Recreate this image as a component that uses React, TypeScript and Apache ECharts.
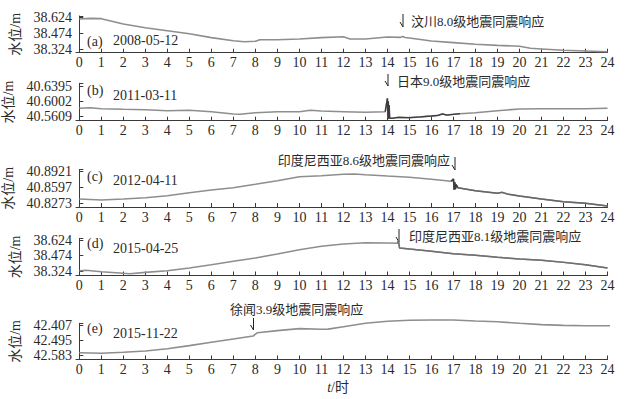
import React, { useEffect, useRef } from "react";
import * as echarts from "echarts";

// ---- data (hours, water level in m) ----
const hourTicks = [0, 1, 2, 3, 4, 5, 6, 7, 8, 9, 10, 11, 12, 13, 14, 15, 16, 17, 18, 19, 20, 21, 22, 23, 24];

const tA = [0, 0.5, 1, 2, 3, 4, 5, 6, 7, 7.5, 8, 8.2, 9, 10, 11, 12, 12.3, 13, 14, 14.6, 14.7, 14.8, 15, 16, 17, 18, 19, 20, 20.5, 21, 22, 23, 24];
const vA = [38.61, 38.616, 38.613, 38.563, 38.528, 38.5, 38.472, 38.435, 38.406, 38.397, 38.401, 38.416, 38.416, 38.422, 38.435, 38.444, 38.422, 38.422, 38.441, 38.438, 38.445, 38.436, 38.432, 38.404, 38.388, 38.373, 38.363, 38.354, 38.335, 38.329, 38.317, 38.31, 38.303];
const ticksA = [38.324, 38.474, 38.624];

const tB = [0, 0.5, 1, 2, 3, 4, 5, 6, 7, 7.3, 8, 9, 10, 10.5, 11, 12, 13, 13.9, 14.0, 14.02, 14.04, 14.06, 14.08, 14.1, 14.2, 14.5, 15, 15.5, 16, 16.3, 16.5, 16.7, 17, 17.3, 18, 19, 20, 21, 22, 23, 24];
const vB = [40.5814, 40.583, 40.5804, 40.5788, 40.5777, 40.575, 40.5761, 40.5724, 40.5662, 40.5654, 40.5697, 40.5724, 40.5724, 40.5761, 40.5742, 40.5724, 40.5708, 40.5724, 40.6081, 40.556, 40.6, 40.553, 40.59, 40.556, 40.5548, 40.5575, 40.5564, 40.5585, 40.5609, 40.5625, 40.5665, 40.5635, 40.5654, 40.567, 40.5697, 40.575, 40.5796, 40.5804, 40.5804, 40.5804, 40.5814];
const ticksB = [40.5609, 40.6002, 40.6395];

const tC = [0, 1, 2, 3, 4, 5, 6, 7, 8, 9, 10, 11, 12, 12.5, 13, 14, 15, 16, 16.9, 17.0, 17.03, 17.06, 17.09, 17.12, 17.2, 18, 19, 19.2, 19.5, 20, 21, 22, 23, 24];
const vC = [40.8355, 40.8335, 40.8355, 40.8382, 40.8423, 40.8485, 40.854, 40.8588, 40.8658, 40.8732, 40.8814, 40.8835, 40.8863, 40.887, 40.8855, 40.8828, 40.8802, 40.8761, 40.872, 40.8765, 40.8545, 40.87, 40.856, 40.865, 40.8588, 40.8526, 40.8473, 40.8493, 40.8452, 40.8417, 40.8355, 40.83, 40.8267, 40.8211];
const ticksC = [40.8273, 40.8597, 40.8921];

const tD = [0, 0.3, 1, 2, 2.3, 3, 4, 5, 6, 7, 8, 9, 10, 11, 12, 13, 14, 14.45, 14.5, 14.55, 15, 16, 17, 18, 19, 20, 21, 22, 23, 24];
const vD = [38.327, 38.331, 38.317, 38.302, 38.298, 38.311, 38.327, 38.353, 38.385, 38.418, 38.45, 38.489, 38.53, 38.563, 38.585, 38.598, 38.595, 38.592, 38.617, 38.547, 38.537, 38.515, 38.491, 38.476, 38.457, 38.44, 38.428, 38.408, 38.385, 38.353];
const ticksD = [38.324, 38.474, 38.624];

const tE = [0, 1, 2, 3, 4, 5, 6, 7, 7.9, 8.1, 9, 10, 11, 11.3, 12, 13, 14, 15, 16, 17, 18, 19, 20, 21, 22, 23, 24, 24.6];
const vE = [42.5695, 42.573, 42.567, 42.5595, 42.546, 42.528, 42.5085, 42.489, 42.4715, 42.452, 42.44, 42.428, 42.432, 42.431, 42.417, 42.397, 42.385, 42.379, 42.378, 42.378, 42.3835, 42.3876, 42.397, 42.405, 42.409, 42.411, 42.411, 42.411];
const ticksE = [42.407, 42.495, 42.583];

const dates = ["2008-05-12", "2011-03-11", "2012-04-11", "2015-04-25", "2015-11-22"];
const letters = ["(a)", "(b)", "(c)", "(d)", "(e)"];
const quakeNotes = [
  "汶川8.0级地震同震响应",
  "日本9.0级地震同震响应",
  "印度尼西亚8.6级地震同震响应",
  "印度尼西亚8.1级地震同震响应",
  "徐闻3.9级地震同震响应",
];

const FONT = "'Liberation Serif', 'Noto Sans CJK SC', serif";
const TXT = "#2a2a2a";
const AX = "#3a3a3a";
const LINE = "#8e8e8e";
const DARK = "#3c3c3c";

const zip = (t: number[], v: number[]) => t.map((x, i) => [x, v[i]]);

export default function App() {
  const ref = useRef<HTMLDivElement>(null);
  useEffect(() => {
    document.body.style.margin = "0";
    const chart = echarts.init(ref.current!, undefined, { renderer: "svg" });

    const panels = [
      { top: 16, height: 36.7, min: 38.294, max: 38.638, ticks: ticksA, dec: 3, inverse: false, t: tA, v: vA },
      { top: 83.3, height: 37.4, min: 40.5484, max: 40.648, ticks: ticksB, dec: 4, inverse: false, t: tB, v: vB },
      { top: 169.5, height: 37.5, min: 40.8191, max: 40.8962, ticks: ticksC, dec: 4, inverse: false, t: tC, v: vC },
      { top: 238.3, height: 37.2, min: 38.2805, max: 38.6405, ticks: ticksD, dec: 3, inverse: false, t: tD, v: vD },
      { top: 323.3, height: 36.2, min: 42.397, max: 42.6094, ticks: ticksE, dec: 3, inverse: true, t: tE, v: vE },
    ];

    const grid = panels.map((p) => ({
      left: 76,
      width: 531.5,
      top: p.top,
      height: p.height,
      containLabel: false,
      outerBoundsMode: "none",
    }));
    const xAxis = panels.map((p, i) => ({
      gridIndex: i,
      type: "value",
      min: -0.15,
      max: 24,
      axisLine: { show: true, onZero: false, lineStyle: { color: AX, width: 1 } },
      axisTick: { show: true, inside: true, length: 4, customValues: hourTicks, lineStyle: { color: AX } },
      axisLabel: {
        customValues: hourTicks,
        formatter: (val: number) => String(Math.round(val)),
        fontSize: 14,
        fontFamily: FONT,
        color: TXT,
        margin: 3,
      },
      splitLine: { show: false },
    }));
    const yAxis = panels.map((p, i) => ({
      gridIndex: i,
      type: "value",
      min: p.min,
      max: p.max,
      inverse: p.inverse,
      axisLine: { show: true, lineStyle: { color: AX, width: 1 } },
      axisTick: {
        show: true,
        inside: true,
        length: 4,
        customValues: [...p.ticks, p.inverse ? p.min : p.max],
        lineStyle: { color: AX },
      },
      axisLabel: {
        customValues: p.ticks,
        formatter: (val: number) => val.toFixed(p.dec),
        fontSize: 14,
        fontFamily: FONT,
        color: TXT,
        margin: 4,
      },
      splitLine: { show: false },
      name: "水位/m",
      nameLocation: "middle",
      nameRotate: 90,
      nameGap: 47,
      nameTextStyle: { fontSize: 14, fontFamily: FONT, color: TXT },
    }));

    const series: any[] = panels.map((p, i) => ({
      type: "line",
      xAxisIndex: i,
      yAxisIndex: i,
      data: zip(p.t, p.v),
      symbol: "none",
      clip: false,
      silent: true,
      lineStyle: { color: LINE, width: 1.6 },
    }));
    const overlay = (i: number, from: number, to: number, color: string, width: number) => {
      const p = panels[i];
      const idx: number[] = [];
      p.t.forEach((x, k) => { if (x >= from && x <= to) idx.push(k); });
      series.push({
        type: "line",
        xAxisIndex: i,
        yAxisIndex: i,
        data: idx.map((k) => [p.t[k], p.v[k]]),
        symbol: "none",
        clip: false,
        silent: true,
        lineStyle: { color, width },
      });
    };
    overlay(1, 13.9, 17.3, DARK, 1.3);
    overlay(2, 16.9, 24, "#666666", 1.4);
    overlay(2, 16.9, 17.2, DARK, 1.3);
    overlay(3, 14.45, 24, "#707070", 1.4);

    const txt = (x: number, y: number, text: string, size: number, align = "left") => ({
      type: "text",
      x,
      y,
      silent: true,
      style: { text, fontSize: size, fontFamily: FONT, fill: TXT, align, verticalAlign: "middle" },
    });
    const arrow = (x: number, y1: number, y2: number) => ({
      type: "polyline",
      silent: true,
      shape: { points: [[x, y1], [x, y2], [x - 3, y2 - 5]] },
      style: { stroke: "#222", lineWidth: 1, fill: "none" },
    });

    const letterY = [41, 90, 176, 243, 328.5];
    const dateY = [40.5, 95, 180, 248, 333];
    const graphic: any[] = [];
    for (let i = 0; i < 5; i++) {
      graphic.push(txt(87, letterY[i], letters[i], 14));
      graphic.push(txt(113, dateY[i], dates[i], 14));
    }
    graphic.push(arrow(403, 14, 27), txt(411, 21.5, quakeNotes[0], 13));
    graphic.push(arrow(388, 74, 86), txt(397, 81, quakeNotes[1], 13));
    graphic.push(txt(450, 160, quakeNotes[2], 13, "right"), arrow(455, 157, 170));
    graphic.push(arrow(399, 229, 242), txt(409, 236.5, quakeNotes[3], 13));
    graphic.push(txt(230, 309.5, quakeNotes[4], 13), arrow(253.5, 318, 330));
    graphic.push({
      type: "text",
      x: 338,
      y: 387,
      silent: true,
      style: {
        text: "{i|t}/时",
        fontSize: 14,
        fontFamily: FONT,
        fill: TXT,
        align: "center",
        verticalAlign: "middle",
        rich: { i: { fontStyle: "italic", fontSize: 14, fontFamily: FONT, fill: TXT } },
      },
    });

    chart.setOption({
      animation: false,
      backgroundColor: "#ffffff",
      grid,
      xAxis,
      yAxis,
      series,
      graphic,
    });
    return () => chart.dispose();
  }, []);
  return <div ref={ref} style={{ position: "fixed", left: 0, top: 0, width: 638, height: 399 }} />;
}
